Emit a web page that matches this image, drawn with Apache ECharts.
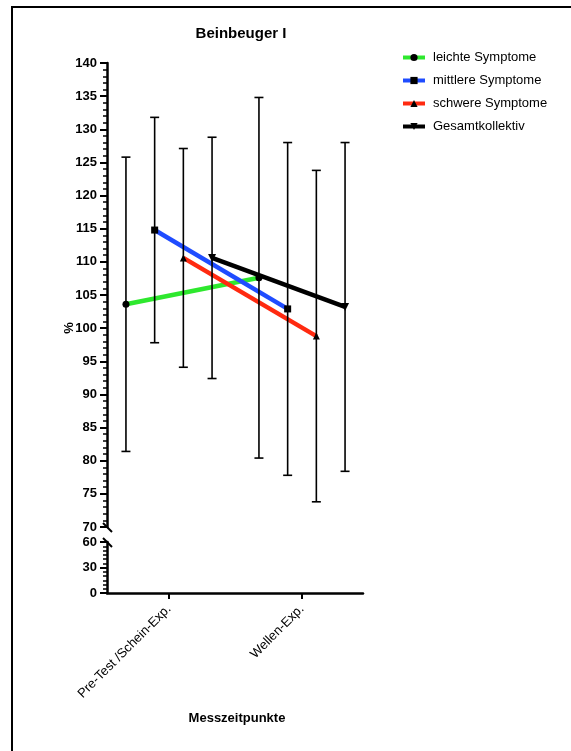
<!DOCTYPE html>
<html>
<head>
<meta charset="utf-8">
<script src="https://cdn.jsdelivr.net/npm/echarts@6/dist/echarts.min.js"></script>
<style>html,body{margin:0;padding:0;background:#fff}#c{width:571px;height:751px}</style>
</head>
<body>
<div id="c"></div>
<script>
const categories = ['Pre-Test /Schein-Exp.', 'Wellen-Exp.'];
const seriesNames = ['leichte Symptome', 'mittlere Symptome', 'schwere Symptome', 'Gesamtkollektiv'];
const leichteMean = [103.6, 107.6];
const leichteSD = [22.2, 27.2];
const mittlereMean = [114.8, 102.9];
const mittlereSD = [17.0, 25.1];
const schwereMean = [110.6, 98.8];
const schwereSD = [16.5, 25.0];
const gesamtMean = [110.6, 103.2];
const gesamtSD = [18.2, 24.8];
const upperTicks = [70, 140, 5];
const lowerTicks = [0, 60, 30];

const means = [leichteMean, mittlereMean, schwereMean, gesamtMean];
const sds = [leichteSD, mittlereSD, schwereSD, gesamtSD];
const colors = ['#2ee82e', '#1f4cff', '#ff2a10', '#000000'];
const symbols = ['circle', 'rect', 'triangle', 'triangle'];
const symbolRot = [0, 0, 0, 180];

const FONT = 'Liberation Sans';
const xMin = (107 - 169) / 133, xMax = (363 - 169) / 133;
const slot = 28.7 / 133;
const off = i => (i - 1.5) * slot;

const chart = echarts.init(document.getElementById('c'), null, {renderer: 'canvas'});

const series = [];
seriesNames.forEach((name, i) => {
  series.push({
    name, type: 'line', xAxisIndex: 0, yAxisIndex: 0,
    data: means[i].map((m, k) => [k + off(i), m]),
    symbol: symbols[i], symbolRotate: symbolRot[i], symbolSize: i === 3 ? 8 : 7,
    lineStyle: {color: colors[i], width: 4.5},
    itemStyle: {color: '#000'},
    color: colors[i],
    z: 3, animation: false
  });
});
seriesNames.forEach((name, i) => {
  series.push({
    name, type: 'custom', xAxisIndex: 0, yAxisIndex: 0,
    data: means[i].map((m, k) => [k + off(i), m, sds[i][k]]),
    encode: {x: 0, y: 1},
    z: 4, animation: false, silent: true,
    renderItem: (params, api) => {
      const x = api.value(0), m = api.value(1), sd = api.value(2);
      const t = api.coord([x, m + sd]), b = api.coord([x, m - sd]);
      const cap = 4.5, st = {stroke: '#000', lineWidth: 1.6};
      return {type: 'group', children: [
        {type: 'line', shape: {x1: t[0], y1: t[1], x2: b[0], y2: b[1]}, style: st},
        {type: 'line', shape: {x1: t[0] - cap, y1: t[1], x2: t[0] + cap, y2: t[1]}, style: st},
        {type: 'line', shape: {x1: b[0] - cap, y1: b[1], x2: b[0] + cap, y2: b[1]}, style: st}
      ]};
    }
  });
});

const axisFont = {fontFamily: FONT, fontWeight: 'bold', fontSize: 13, color: '#000'};

chart.setOption({
  animation: false,
  textStyle: {fontFamily: FONT},
  grid: [
    {left: 107, width: 256, top: 63, height: 464},
    {left: 107, width: 256, top: 542, height: 51}
  ],
  xAxis: [
    {gridIndex: 0, type: 'value', min: xMin, max: xMax, show: false, axisLine: {onZero: false}},
    {gridIndex: 1, type: 'value', min: xMin, max: xMax,
     axisLine: {onZero: false, lineStyle: {color: '#000', width: 2.5}},
     axisTick: {customValues: [0, 1], length: 6, lineStyle: {color: '#000', width: 2}},
     axisLabel: {customValues: [0, 1], rotate: 45, fontFamily: FONT, fontSize: 13, color: '#000', margin: 14,
       formatter: v => categories[Math.round(v)]},
     splitLine: {show: false}}
  ],
  yAxis: [
    {gridIndex: 0, type: 'value', min: upperTicks[0], max: upperTicks[1], interval: upperTicks[2],
     axisLine: {show: true, onZero: false, lineStyle: {color: '#000', width: 2.5}},
     axisTick: {length: 7, lineStyle: {color: '#000', width: 2}},
     minorTick: {show: true, splitNumber: 5, length: 4, lineStyle: {color: '#000', width: 1.5}},
     axisLabel: Object.assign({margin: 10}, axisFont),
     splitLine: {show: false}},
    {gridIndex: 1, type: 'value', min: lowerTicks[0], max: lowerTicks[1], interval: lowerTicks[2],
     axisLine: {show: true, onZero: false, lineStyle: {color: '#000', width: 2.5}},
     axisTick: {length: 7, lineStyle: {color: '#000', width: 2}},
     minorTick: {show: true, splitNumber: 6, length: 4, lineStyle: {color: '#000', width: 1.5}},
     axisLabel: Object.assign({margin: 10}, axisFont),
     splitLine: {show: false}}
  ],
  title: {text: 'Beinbeuger I', left: 236, top: 21, textAlign: 'center',
    textStyle: {fontFamily: FONT, fontWeight: 'bold', fontSize: 15, color: '#000'}},
  legend: {
    data: seriesNames, orient: 'vertical', left: 396, top: 46,
    itemWidth: 22, itemHeight: 9, itemGap: 10,
    lineStyle: {width: 4},
    textStyle: {fontFamily: FONT, fontSize: 13, color: '#000', padding: [0, 0, 0, 3]}
  },
  graphic: [
    {type: 'rect', shape: {x: 12, y: 7, width: 700, height: 900}, style: {fill: null, stroke: '#000', lineWidth: 2}, z: 10},
    {type: 'line', shape: {x1: 103, y1: 523, x2: 112, y2: 532}, style: {stroke: '#000', lineWidth: 2}, z: 10},
    {type: 'line', shape: {x1: 103, y1: 538, x2: 112, y2: 547}, style: {stroke: '#000', lineWidth: 2}, z: 10},
    {type: 'text', x: 69, y: 328, rotation: Math.PI / 2,
     style: {text: '%', fontFamily: FONT, fontWeight: 'bold', fontSize: 13, fill: '#000', textAlign: 'center', textVerticalAlign: 'middle'}},
    {type: 'text', x: 237, y: 718,
     style: {text: 'Messzeitpunkte', fontFamily: FONT, fontWeight: 'bold', fontSize: 13, fill: '#000', textAlign: 'center', textVerticalAlign: 'middle'}}
  ],
  series
});
</script>
</body>
</html>
